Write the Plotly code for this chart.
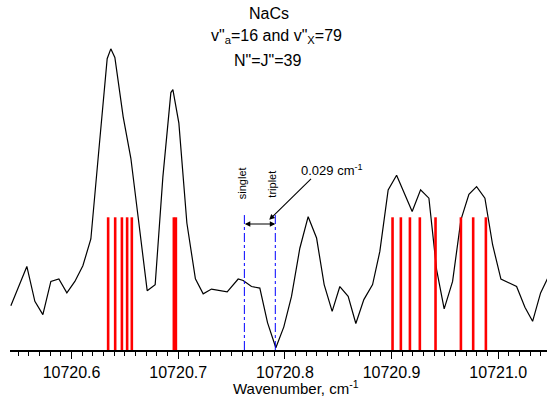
import plotly.graph_objects as go

# Spectrum (wavenumber, cm^-1  vs  intensity, arb. units)
wavenumber = [10720.5431, 10720.5581, 10720.5656, 10720.5731, 10720.5806, 10720.5881,
              10720.5956, 10720.6031, 10720.6106, 10720.6181, 10720.6256, 10720.6334,
              10720.6368, 10720.6406, 10720.6484, 10720.6556, 10720.6631, 10720.6709,
              10720.6784, 10720.6856, 10720.6931, 10720.6950, 10720.7006, 10720.7081,
              10720.7161, 10720.7234, 10720.7312, 10720.7390, 10720.7459, 10720.7562,
              10720.7609, 10720.7687, 10720.7765, 10720.7837, 10720.7915, 10720.7990,
              10720.8062, 10720.8140, 10720.8218, 10720.8297, 10720.8368, 10720.8443,
              10720.8515, 10720.8593, 10720.8665, 10720.8740, 10720.8822, 10720.8890,
              10720.8968, 10720.9047, 10720.9118, 10720.9193, 10720.9272, 10720.9350,
              10720.9422, 10720.9493, 10720.9572, 10720.9650, 10720.9725, 10720.9797,
              10720.9875, 10720.9947, 10721.0025, 10721.0093, 10721.0172, 10721.0250,
              10721.0322, 10721.0397, 10721.0475]
intensity = [13.9, 26.2, 15.25, 11.1, 21.5, 22.3,
             17.9, 21.5, 26.4, 34.8, 62.7, 91.3,
             94.4, 91.7, 73.1, 60.1, 39.8, 18.6,
             20.5, 54.2, 80.7, 81.6, 71.1, 39.8,
             22.3, 17.6, 19.1, 18.6, 18.2, 22.25,
             21.8, 19.9, 19.4, 8.6, 0.7, 7.25,
             16.8, 31.9, 41.8, 35.1, 20.5, 12.1,
             19.9, 16.8, 8.3, 15.8, 20.5, 30.9,
             50.2, 54.8, 49.1, 43.4, 50.2, 47.6,
             25.2, 12.9, 21.5, 40.8, 48.8, 51.2,
             47.6, 33.0, 22.25, 21.2, 19.9, 13.4,
             9.0, 17.9, 23.3]

# Calculated line positions (red sticks)
line_positions = [10720.6343, 10720.6409, 10720.6472, 10720.6521, 10720.6565,
                  10720.6959, 10720.6978,
                  10720.9009, 10720.9087, 10720.9172, 10720.9265, 10720.9412,
                  10720.9650, 10720.9765, 10720.9884]
line_height = 41.6

# Singlet / triplet markers
singlet_pos = 10720.762
triplet_pos = 10720.791
marker_height = 42.3
split_label = "0.029 cm<sup>-1</sup>"

title_lines = ["NaCs", "v\"<sub>a</sub>=16 and v\"<sub>X</sub>=79", "N\"=J\"=39"]
x_title = "Wavenumber, cm<sup>-1</sup>"

FONT = "Arial, Liberation Sans, sans-serif"

fig = go.Figure()

fig.add_trace(go.Scatter(x=wavenumber, y=intensity, mode="lines",
                         line=dict(color="black", width=1.2), showlegend=False,
                         hoverinfo="skip"))

sx, sy = [], []
for p in line_positions:
    sx += [p, p, None]
    sy += [0, line_height, None]
fig.add_trace(go.Scatter(x=sx, y=sy, mode="lines",
                         line=dict(color="#ff0000", width=2.6), showlegend=False,
                         hoverinfo="skip"))

bx, by = [], []
for p in [singlet_pos, triplet_pos]:
    bx += [p, p, None]
    by += [0, marker_height, None]
fig.add_trace(go.Scatter(x=bx, y=by, mode="lines",
                         line=dict(color="#0000ff", width=1, dash="dashdot"),
                         showlegend=False, hoverinfo="skip"))

annotations = []
# title lines
for txt, xp, yp in zip(title_lines, [0.4817, 0.4963, 0.4804], [1.0538, 0.984, 0.907]):
    annotations.append(dict(text=txt, x=xp, y=yp, xref="paper", yref="paper",
                            xanchor="center", yanchor="middle", showarrow=False,
                            font=dict(family=FONT, size=16, color="black")))
# x axis title
annotations.append(dict(text=x_title, x=0.5326, y=-0.117, xref="paper", yref="paper",
                        xanchor="center", yanchor="middle", showarrow=False,
                        font=dict(family=FONT, size=15, color="black")))
# singlet / triplet labels
annotations.append(dict(text="singlet", x=10720.7605, y=52.2, xref="x", yref="y",
                        textangle=-90, showarrow=False,
                        font=dict(family=FONT, size=11, color="black")))
annotations.append(dict(text="triplet", x=10720.7884, y=52.0, xref="x", yref="y",
                        textangle=-90, showarrow=False,
                        font=dict(family=FONT, size=11, color="black")))
# splitting label
annotations.append(dict(text=split_label, x=10720.844, y=56.4, xref="x", yref="y",
                        showarrow=False,
                        font=dict(family=FONT, size=13, color="black")))
# horizontal double arrow
annotations.append(dict(x=triplet_pos, y=39.5, ax=singlet_pos - 0.001, ay=39.5,
                        xref="x", yref="y", axref="x", ayref="y", text="",
                        showarrow=True, arrowside="end+start", arrowhead=2,
                        arrowsize=1, arrowwidth=1.1, arrowcolor="black",
                        standoff=0, startstandoff=0))
# diagonal pointer arrow
annotations.append(dict(x=10720.7853, y=40.8, ax=10720.8259, ay=54.1,
                        xref="x", yref="y", axref="x", ayref="y", text="",
                        showarrow=True, arrowhead=2, arrowsize=1, arrowwidth=1.1,
                        arrowcolor="black", standoff=0))

fig.update_layout(
    width=547, height=399,
    margin=dict(l=10, r=0, t=30.5, b=48.5),
    paper_bgcolor="white", plot_bgcolor="white",
    font=dict(family=FONT, color="black"),
    annotations=annotations,
    hovermode=False,
    xaxis=dict(range=[10720.5423, 10721.0457], showgrid=False, zeroline=False,
               showline=True, linecolor="black", linewidth=1.5,
               ticks="outside", ticklen=7, tickwidth=1.3, tickcolor="black",
               tick0=10720.6, dtick=0.1, tickformat=".1f",
               tickfont=dict(family=FONT, size=16, color="black"),
               minor=dict(dtick=0.01, tick0=10720.6, ticks="outside", ticklen=4,
                          tickwidth=1, tickcolor="black", showgrid=False)),
    yaxis=dict(range=[0, 100], visible=False, showgrid=False, zeroline=False),
)

fig.write_html("out.html",
               config={"displayModeBar": False},
               post_script="document.body.style.margin='0';"
                           "document.body.style.overflow='hidden';")
